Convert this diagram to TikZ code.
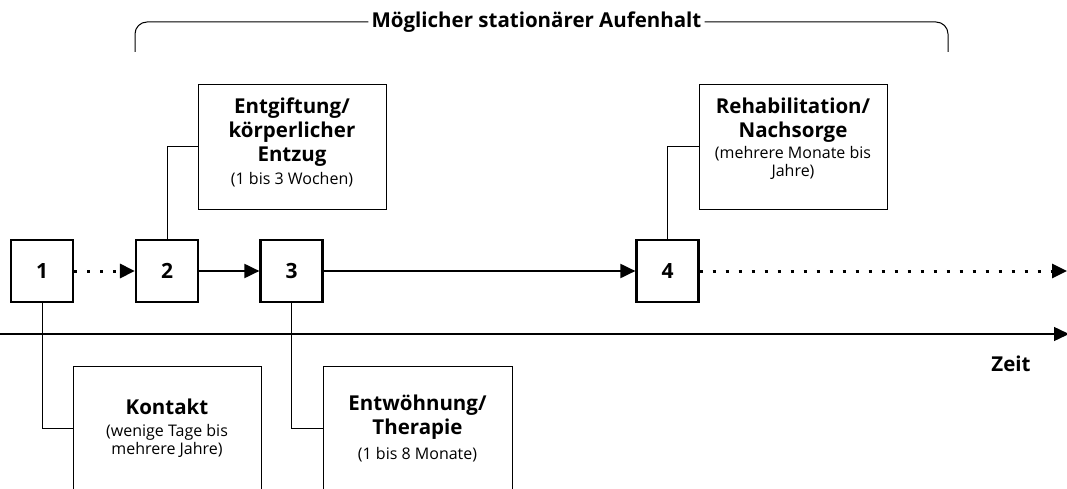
\documentclass[tikz,border=0pt]{standalone}
\usepackage{fontspec}
\setmainfont{Open Sans}
\usetikzlibrary{arrows.meta}
\begin{document}
\begin{tikzpicture}[x=1pt,y=-1pt,
  num/.style={draw,line width=2.2pt,minimum width=62pt,minimum height=62pt,inner sep=0pt,font=\fontsize{21}{24}\selectfont\bfseries},
  infobox/.style={draw,line width=1pt,anchor=north west,inner sep=0pt},
  ttl/.style={align=center,inner sep=0pt,font=\fontsize{20.5}{24}\selectfont\bfseries},
  sub/.style={align=center,inner sep=0pt,font=\fontsize{16}{18.5}\selectfont},
  tip/.style={-{Triangle[length=15pt,width=14pt]}},
  flow/.style={line width=2pt},
  dots/.style={line width=3pt,dash pattern=on 3pt off 10pt},
  conn/.style={line width=1pt},
]
\useasboundingbox (0,0) rectangle (1067,489);
\clip (0,0) rectangle (1067,489);

% brace with title
\node[ttl,fill=white,inner xsep=3pt] (title) at (536.5,22) {Möglicher stationärer Aufenhalt};
\coordinate (brL) at (135,52);
\coordinate (brR) at (948,52);
\draw[conn,rounded corners=12pt] (brL) -- (135,22) -- (title.west);
\draw[conn,rounded corners=12pt] (title.east) -- (948,22) -- (brR);

% numbered steps
\node[num] (n1) at (42,271) {1};
\node[num] (n2) at (167,271) {2};
\node[num] (n3) at (291.5,271) {3};
\node[num] (n4) at (667.5,271) {4};
\coordinate (fend) at (1067,271);

\draw[dots,tip] (n1.east) -- (n2.west);
\draw[flow,tip] (n2.east) -- (n3.west);
\draw[flow,tip] (n3.east) -- (n4.west);
\draw[dots,tip] (n4.east) -- (fend);

% time axis
\coordinate (ax0) at (0,334);
\coordinate (ax1) at (1069,334);
\draw[line width=1.4pt,tip] (ax0) -- (ax1);
\node[ttl] (zeit) at (1011,364) {Zeit};

% upper info boxes
\node[infobox,minimum width=188pt,minimum height=125pt] (b2) at (198,84) {};
\node[ttl] (b2t) at (292,132) {Entgiftung/\\körperlicher\\Entzug};
\node[sub] (b2s) at (292,180) {(1 bis 3 Wochen)};

\node[infobox,minimum width=188pt,minimum height=125pt] (b4) at (699,84) {};
\node[ttl] (b4t) at (793,120) {Rehabilitation/\\Nachsorge};
\node[sub] (b4s) at (793,163) {(mehrere Monate bis\\Jahre)};

% lower info boxes
\node[infobox,minimum width=188pt,minimum height=124pt] (b1) at (73,366) {};
\node[ttl] (b1t) at (167,407) {Kontakt};
\node[sub] (b1s) at (167,441) {(wenige Tage bis\\mehrere Jahre)};

\node[infobox,minimum width=189pt,minimum height=124pt] (b3) at (323,366) {};
\node[ttl] (b3t) at (417.5,417) {Entwöhnung/\\Therapie};
\node[sub] (b3s) at (417.5,455) {(1 bis 8 Monate)};

% connectors
\draw[conn] (n2.north) |- (b2.west);
\draw[conn] (n4.north) |- (b4.west);
\draw[conn] (n1.south) |- (b1.west);
\draw[conn] (n3.south) |- (b3.west);
\end{tikzpicture}
\end{document}
